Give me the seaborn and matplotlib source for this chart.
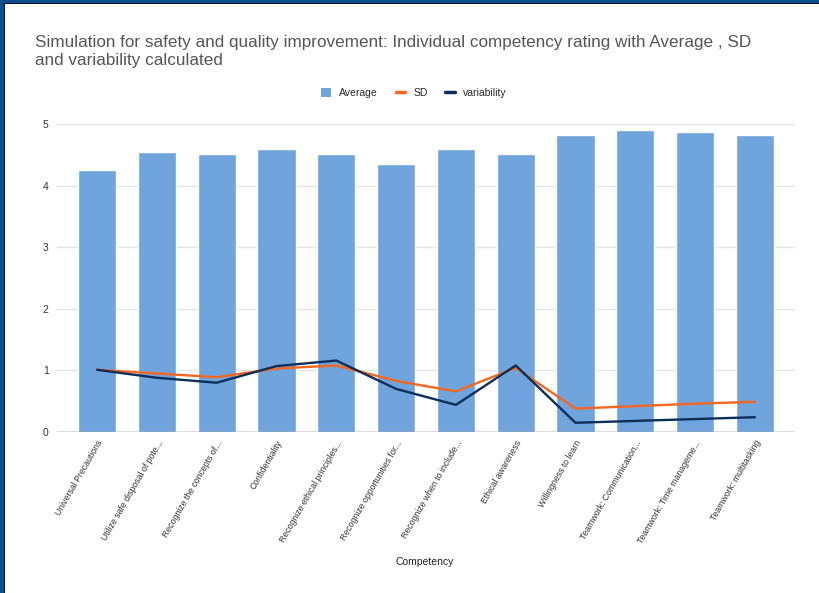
import numpy as np
import pandas as pd
import seaborn as sns
import matplotlib.pyplot as plt
from matplotlib.patches import Rectangle, Patch
from matplotlib.lines import Line2D

competencies = [
    'Universal Precautions',
    'Utilize safe disposal of pote...',
    'Recognize the concepts of...',
    'Confidentiality',
    'Recognize ethical principles...',
    'Recognize opportunities for...',
    'Recognize when to include...',
    'Ethical awareness',
    'Willingness to learn',
    'Teamwork: Communication...',
    'Teamwork: Time manageme...',
    'Teamwork: multitasking',
]
average = [4.25, 4.55, 4.51, 4.59, 4.51, 4.35, 4.59, 4.51, 4.82, 4.90, 4.87, 4.82]
sd = [1.01, 0.95, 0.89, 1.03, 1.08, 0.83, 0.66, 1.04, 0.38, 0.42, 0.46, 0.49]
variability = [1.01, 0.88, 0.80, 1.07, 1.16, 0.70, 0.44, 1.08, 0.15, 0.18, 0.21, 0.24]

df = pd.DataFrame({'Competency': competencies, 'Average': average,
                   'SD': sd, 'variability': variability})
df['pos'] = np.arange(len(df))

bar_color = '#6fa4dc'
sd_color = '#f5661f'
var_color = '#0c2f5a'

sns.set_style('white')
plt.rcParams['font.family'] = ['Liberation Sans', 'DejaVu Sans']

fig = plt.figure(figsize=(8.2, 5.93), dpi=100)
ax = fig.add_axes([57 / 820, 1 - 432 / 593, 738 / 820, 308 / 593])

sns.barplot(data=df, x='Competency', y='Average', color=bar_color,
            saturation=1, width=0.64, ax=ax, zorder=2)
sns.lineplot(data=df, x='pos', y='SD', color=sd_color, linewidth=1.7,
             ax=ax, zorder=3)
sns.lineplot(data=df, x='pos', y='variability', color=var_color,
             linewidth=1.7, ax=ax, zorder=4)

ax.set_xlim(-0.67, len(df) - 0.33)
ax.set_ylim(0, 5)
ax.set_yticks([0, 1, 2, 3, 4, 5])
ax.set_yticklabels(['0', '1', '2', '3', '4', '5'], fontsize=7.5, color='#333333')
ax.set_xticks(df['pos'])
ax.set_xticklabels(competencies, rotation=60, ha='right',
                   rotation_mode='anchor', fontsize=6.3, color='#333333')
ax.tick_params(axis='both', length=0, pad=6)
ax.tick_params(axis='x', pad=5)
ax.grid(axis='y', color='#e3e3e3', linewidth=1, zorder=0)
ax.axhline(0, color='#666666', linewidth=1, zorder=5)
ax.set_xlabel('')
ax.set_ylabel('')
sns.despine(ax=ax, left=True, bottom=True)

fig.text(35 / 820, 1 - 35 / 593,
         'Simulation for safety and quality improvement: Individual competency rating with Average , SD\nand variability calculated',
         fontsize=12.3, color='#555555', va='top', ha='left', linespacing=1.25)
fig.text(425 / 820, 1 - 562 / 593, 'Competency', fontsize=7.5,
         color='#222222', ha='center', va='center')

handles = [
    Patch(facecolor=bar_color, edgecolor='none'),
    Line2D([], [], color=sd_color, linewidth=2.5),
    Line2D([], [], color=var_color, linewidth=2.5),
]
fig.legend(handles, ['Average', 'SD', 'variability'], loc='center',
           bbox_to_anchor=(414 / 820, 1 - 93 / 593), ncol=3, frameon=False,
           fontsize=7.5, handlelength=0.9, handleheight=1.0, columnspacing=1.7,
           handletextpad=0.8)

# dark blue frame on the left and top edges
fig.patches.append(Rectangle((0, 0), 4 / 820, 1, transform=fig.transFigure,
                             facecolor='#0b4f91', edgecolor='none', zorder=10))
fig.patches.append(Rectangle((4 / 820, 0), 1 / 820, 1 - 4 / 593,
                             transform=fig.transFigure, facecolor='#111111',
                             edgecolor='none', zorder=10))
fig.patches.append(Rectangle((0, 1 - 3 / 593), 1, 3 / 593,
                             transform=fig.transFigure, facecolor='#0b4f91',
                             edgecolor='none', zorder=10))
fig.patches.append(Rectangle((4 / 820, 1 - 4 / 593), 1, 1 / 593,
                             transform=fig.transFigure, facecolor='#111111',
                             edgecolor='none', zorder=10))

fig.savefig('out.png', dpi=100)
